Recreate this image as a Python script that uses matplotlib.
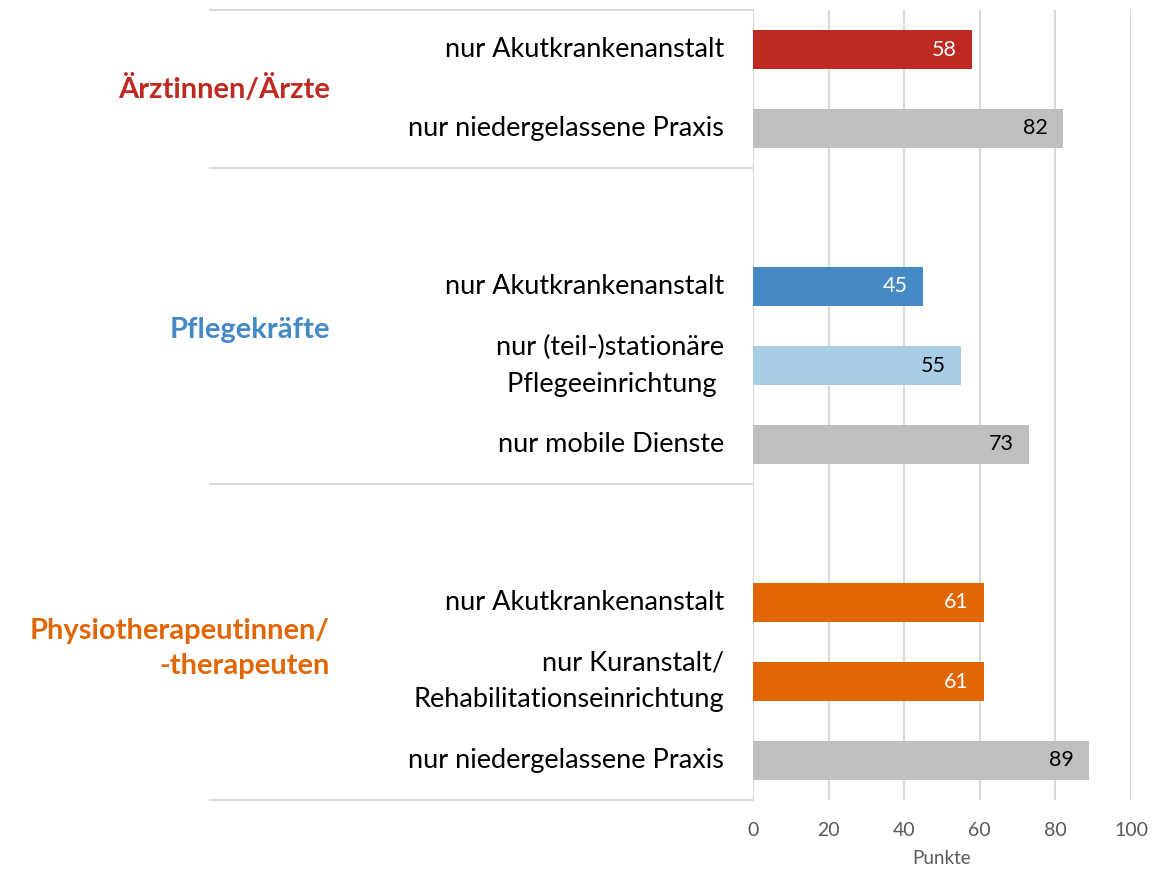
import matplotlib.pyplot as plt
import matplotlib.transforms as mtransforms

plt.rcParams['font.family'] = ['Lato', 'DejaVu Sans']

# groups, their items and scores (Punkte)
groups = ['Ärztinnen/Ärzte', 'Pflegekräfte', 'Physiotherapeutinnen/\n-therapeuten']
group_colors = ['#BE2A21', '#4589C5', '#E06606']
labels = [
    ['nur Akutkrankenanstalt', 'nur niedergelassene Praxis'],
    ['nur Akutkrankenanstalt', 'nur (teil-)stationäre\nPflegeeinrichtung ', 'nur mobile Dienste'],
    ['nur Akutkrankenanstalt', 'nur Kuranstalt/\nRehabilitationseinrichtung', 'nur niedergelassene Praxis'],
]
values = [
    [58, 82],
    [45, 55, 73],
    [61, 61, 89],
]
bar_colors = [
    ['#BE2A21', '#BFBFBF'],
    ['#4589C5', '#AACDE6', '#BFBFBF'],
    ['#E06606', '#E06606', '#BFBFBF'],
]
text_colors = [
    ['white', 'black'],
    ['white', 'black', 'black'],
    ['white', 'white', 'black'],
]
xticks = [0, 20, 40, 60, 80, 100]

grid_col = '#D9D9D9'

fig = plt.figure(figsize=(11.72, 8.69), dpi=100)
ax = fig.add_axes([753 / 1172, 1 - 800 / 869, 378 / 1172, 790 / 869])

# row layout: every group after the first starts with an empty row
row = 0
bounds = [-0.5]
group_centers = []
for gi in range(len(groups)):
    if gi > 0:
        row += 1
    start = row
    for lab, v, bc, tc in zip(labels[gi], values[gi], bar_colors[gi], text_colors[gi]):
        ax.barh(row, v, height=0.5, color=bc, zorder=2)
        ax.text(v - 4, row, str(v), ha='right', va='center', fontsize=15.5, color=tc, zorder=3)
        ax.text(-7.7, row, lab, ha='right', va='center', fontsize=19.5, color='black',
                multialignment='right', linespacing=1.6)
        row += 1
    bounds.append(row - 0.5)
    group_centers.append((start - (1 if gi > 0 else 0) + row - 1) / 2)

n_rows = row
ax.set_ylim(n_rows - 0.5, -0.5)
ax.set_xlim(0, 100)

# separators between groups
trans = mtransforms.blended_transform_factory(fig.transFigure, ax.transData)
for b in bounds:
    ax.plot([210 / 1172, 753 / 1172], [b, b], color=grid_col, lw=1.5, transform=trans, clip_on=False)

# group labels
offsets = [0, 0.05, 0.08]
for g, c, gc, off in zip(groups, group_colors, group_centers, offsets):
    ax.text(330 / 1172, gc + off, g, transform=trans, ha='right', va='center', fontsize=21,
            fontweight='bold', color=c, multialignment='right', linespacing=1.4)

ax.set_xticks(xticks)
ax.set_yticks([])
ax.tick_params(axis='x', length=0, labelsize=14, labelcolor='#595959', pad=16)
ax.grid(axis='x', color=grid_col, lw=1.5, zorder=0)
for s in ax.spines.values():
    s.set_visible(False)
ax.set_xlabel('Punkte', fontsize=13.5, color='#595959', labelpad=8)

fig.savefig('out.png', dpi=100)
